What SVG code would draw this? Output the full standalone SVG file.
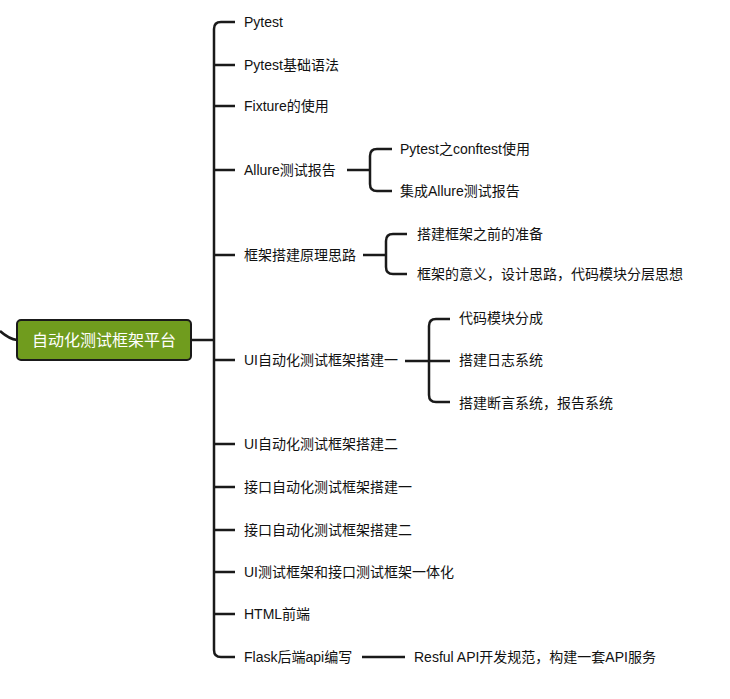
<svg xmlns="http://www.w3.org/2000/svg" width="730" height="699" viewBox="0 0 730 699">
<style>
.c{fill:none;stroke:#1a1a1a;stroke-width:2.5;stroke-linecap:butt}
.t{font-family:"Liberation Sans","Noto Sans CJK SC",sans-serif;font-size:14px;fill:#111;dominant-baseline:central}
.m{font-family:"Liberation Sans","Noto Sans CJK SC",sans-serif;font-size:16px;fill:#fff;dominant-baseline:central;text-anchor:middle}
</style>
<rect width="730" height="699" fill="#fff"/>
<g id="connectors">
<path class="c" d="M0,331 Q9,339 17,340"/>
<path class="c" d="M191,340 H214"/>
<path class="c" d="M235,22 H221 Q214,22 214,29 V650 Q214,657 221,657 H235"/>
<path class="c" d="M214,65 H235 M214,106 H235 M214,170 H235 M214,255 H235 M214,360 H235 M214,444 H235 M214,487 H235 M214,530 H235 M214,572 H235 M214,614 H235"/>
<path class="c" d="M347,170 H370"/>
<path class="c" d="M392,149 H377 Q370,149 370,156 V184 Q370,191 377,191 H392"/>
<path class="c" d="M363,255 H386"/>
<path class="c" d="M407,234 H393 Q386,234 386,241 V267 Q386,274 393,274 H407"/>
<path class="c" d="M405,361 H450"/>
<path class="c" d="M450,319 H436 Q429,319 429,326 V395 Q429,402 436,402 H450"/>
<path class="c" d="M362,657 H405"/>
</g>
<g id="root">
<rect x="17" y="320" width="174" height="40" rx="4" fill="#709c1e" stroke="#1a1a1a" stroke-width="2"/>
<text class="m" x="104" y="340">自动化测试框架平台</text>
</g>
<g id="n1"><text class="t" x="244" y="22">Pytest</text></g>
<g id="n2"><text class="t" x="244" y="65">Pytest基础语法</text></g>
<g id="n3"><text class="t" x="244" y="106">Fixture的使用</text></g>
<g id="n4"><text class="t" x="244" y="170">Allure测试报告</text></g>
<g id="n4a"><text class="t" x="400" y="149">Pytest之conftest使用</text></g>
<g id="n4b"><text class="t" x="400" y="191">集成Allure测试报告</text></g>
<g id="n5"><text class="t" x="244" y="255">框架搭建原理思路</text></g>
<g id="n5a"><text class="t" x="417" y="234">搭建框架之前的准备</text></g>
<g id="n5b"><text class="t" x="417" y="274">框架的意义，设计思路，代码模块分层思想</text></g>
<g id="n6"><text class="t" x="244" y="360">UI自动化测试框架搭建一</text></g>
<g id="n6a"><text class="t" x="459" y="318">代码模块分成</text></g>
<g id="n6b"><text class="t" x="459" y="360">搭建日志系统</text></g>
<g id="n6c"><text class="t" x="459" y="403">搭建断言系统，报告系统</text></g>
<g id="n7"><text class="t" x="244" y="444">UI自动化测试框架搭建二</text></g>
<g id="n8"><text class="t" x="244" y="487">接口自动化测试框架搭建一</text></g>
<g id="n9"><text class="t" x="244" y="530">接口自动化测试框架搭建二</text></g>
<g id="n10"><text class="t" x="244" y="572">UI测试框架和接口测试框架一体化</text></g>
<g id="n11"><text class="t" x="244" y="614">HTML前端</text></g>
<g id="n12"><text class="t" x="244" y="657">Flask后端api编写</text></g>
<g id="n12a"><text class="t" x="414" y="657">Resful API开发规范，构建一套API服务</text></g>
</svg>
